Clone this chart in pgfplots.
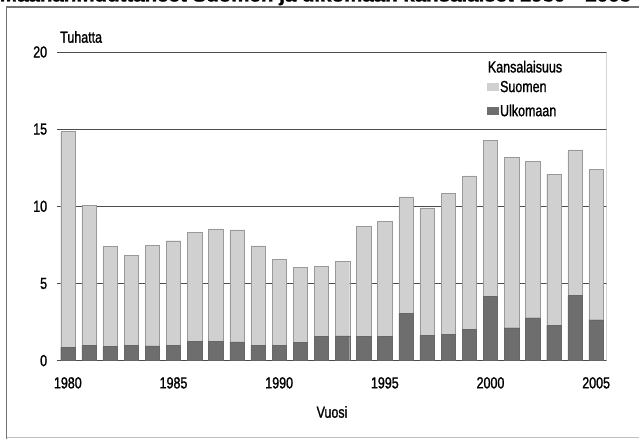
\documentclass[border=0pt]{standalone}
\usepackage{pgfplots}
\pgfplotsset{compat=1.18}
\usepackage{pgfplotstable}
\usepackage{fontspec}
\setmainfont{Liberation Sans}[FakeStretch=0.78, FakeBold=1.2]
\setsansfont{Liberation Sans}[FakeStretch=0.78, FakeBold=1.2]
\definecolor{lightbar}{HTML}{D0D0D0}
\definecolor{darkbar}{HTML}{6E6E6E}

\pgfplotstableread{
year ulk suo
1980 0.86 13.98
1981 1.01 9.04
1982 0.91 6.51
1983 0.99 5.85
1984 0.95 6.54
1985 0.99 6.78
1986 1.25 7.05
1987 1.25 7.29
1988 1.21 7.27
1989 0.97 6.47
1990 0.99 5.55
1991 1.19 4.85
1992 1.55 4.58
1993 1.60 4.84
1994 1.57 7.14
1995 1.55 7.47
1996 3.06 7.55
1997 1.64 8.26
1998 1.72 9.11
1999 2.03 9.94
2000 4.16 10.12
2001 2.13 11.03
2002 2.78 10.12
2003 2.28 9.80
2004 4.23 9.42
2005 2.65 9.73
}\data

\begin{document}
\begin{tikzpicture}
\path[use as bounding box, clip] (0pt,0pt) rectangle (639pt,439pt);
\fill[white] (0pt,0pt) rectangle (639pt,439pt);
% cut-off title
\node[anchor=base west, inner sep=0pt, outer sep=0pt] at (0pt,437.5pt) {\resizebox{631pt}{13pt}{\bfseries Maahanmuuttaneet Suomen ja ulkomaan kansalaiset 1980\,–\,2005}};
% frame
\draw[black!55, line width=1.2pt] (6.5pt,0pt) -- (6.5pt,432pt) -- (639pt,432pt);
\draw[black!25, line width=0.8pt] (6.5pt,1.5pt) -- (639pt,1.5pt);

\begin{axis}[
  at={(57.3pt,78.4pt)}, anchor=south west,
  scale only axis, width=549.4pt, height=308.6pt,
  xmin=1979.5, xmax=2005.5, ymin=0, ymax=20,
  axis line style={draw=none},
  major tick length=0pt,
  ymajorgrids, grid style={black!70, line width=0.9pt},
  ytick={0,5,10,15,20}, yticklabels={0,5,10,15,20},
  xtick={1980,1985,1990,1995,2000,2005},
  xticklabels={1980,1985,1990,1995,2000,2005},
  ticklabel style={font=\fontsize{16}{19}\selectfont},
  yticklabel style={anchor=east, inner sep=0pt, xshift=-10pt},
  xticklabel style={anchor=north, inner sep=0pt, yshift=-16.4pt},
  xlabel={Vuosi},
  xlabel style={at={(axis description cs:0.5,0)}, anchor=center, inner sep=0pt, yshift=-51.4pt, font=\fontsize{16}{19}\selectfont},
  ybar stacked, bar width=14.3pt,
  reverse legend,
  legend cell align=left,
  legend image code/.code={\path[#1,draw=none] (0pt,-4.2pt) rectangle (11.7pt,4.2pt);},
  legend style={at={(axis cs:1999.82,18.14)}, anchor=north west, draw=none, fill=none,
    inner sep=0pt, row sep=11pt, column sep=1.5pt,
    nodes={inner sep=0pt},
    font=\fontsize{16}{19}\selectfont},
]
\addplot[fill=darkbar, draw=black!60, line width=0.4pt] table[x=year,y=ulk]{\data};
\addlegendentry{Ulkomaan}
\addplot[fill=lightbar, draw=black!40, line width=0.4pt] table[x=year,y=suo]{\data};
\addlegendentry{Suomen}
\draw[black!25, line width=0.6pt] (axis cs:2005.5,0) -- (axis cs:2005.5,20);
\end{axis}
\node[anchor=west, inner sep=0pt, font=\fontsize{16}{19}\selectfont] at (60pt,402pt) {Tuhatta};
\node[anchor=west, inner sep=0pt, font=\fontsize{16}{19}\selectfont] at (487.7pt,372.3pt) {Kansalaisuus};
\end{tikzpicture}
\end{document}
